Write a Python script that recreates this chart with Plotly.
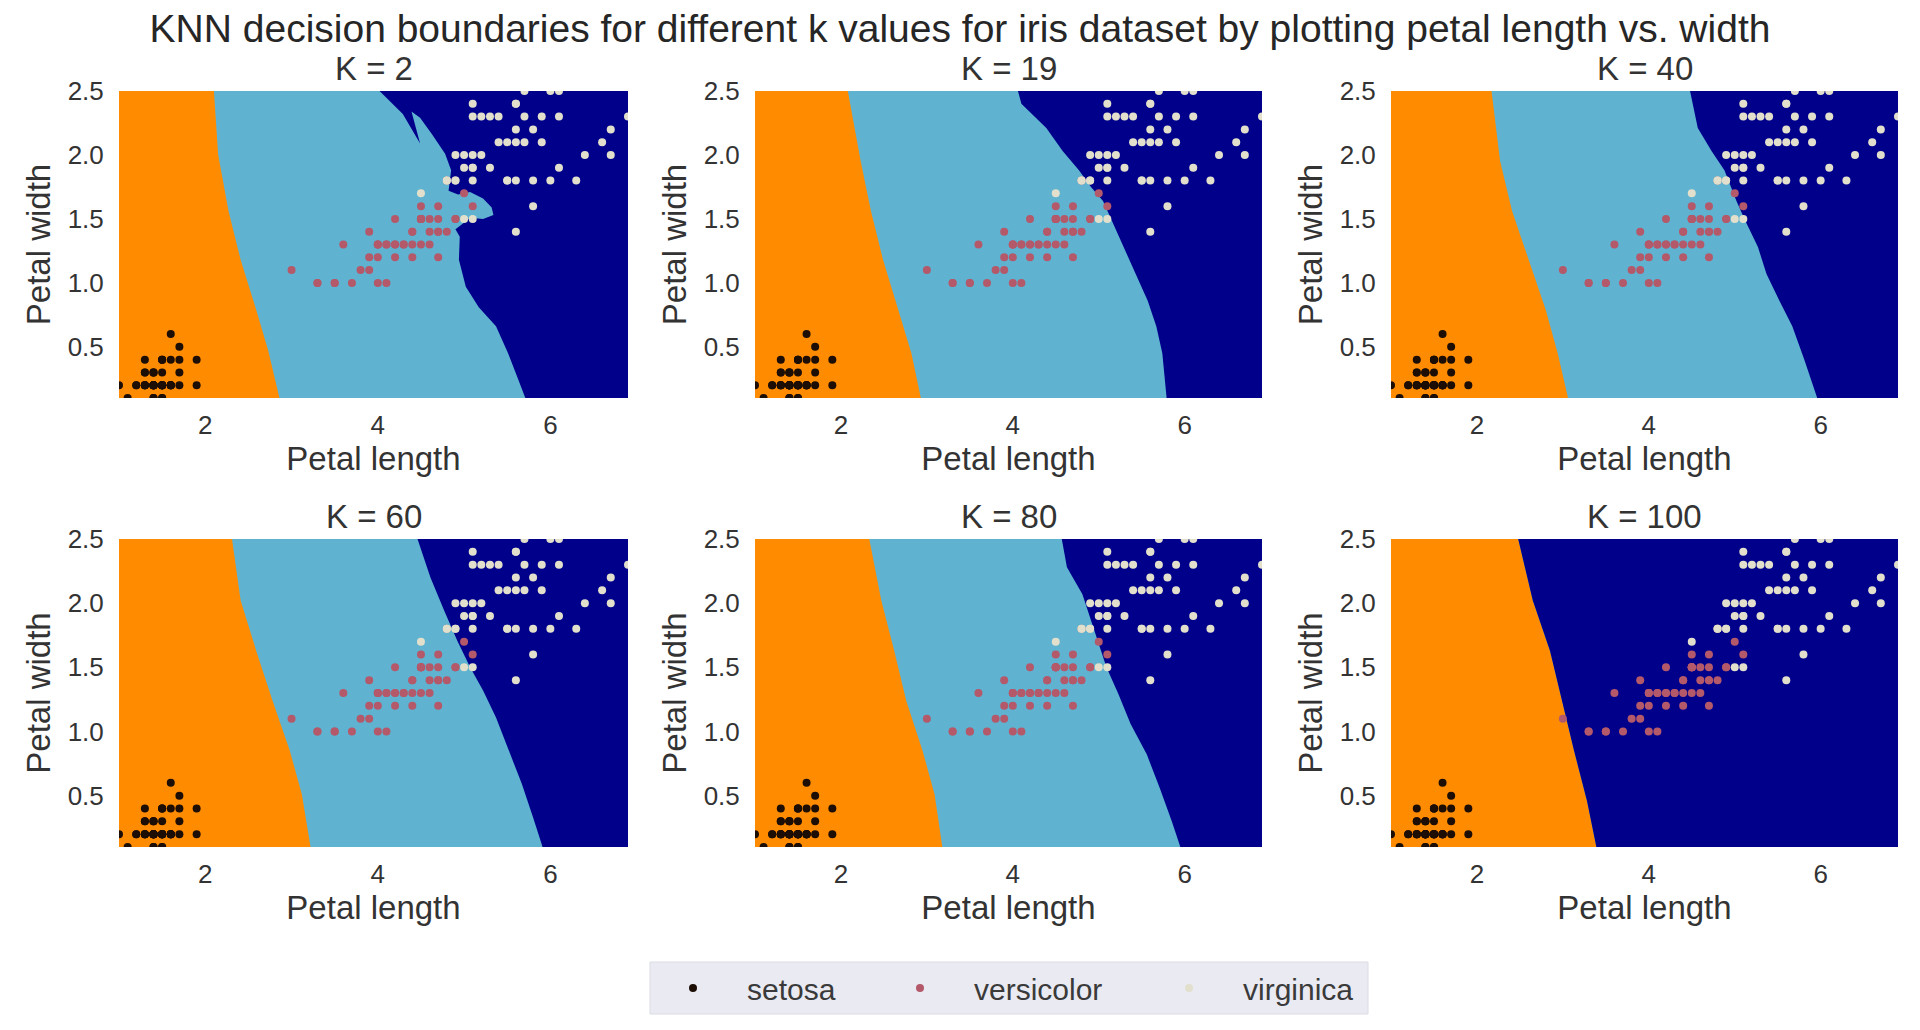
import plotly.graph_objects as go

# ---------------- data (iris: petal length / petal width) ----------------
setosa_length = [1.4, 1.4, 1.3, 1.5, 1.4, 1.7, 1.4, 1.5, 1.4, 1.5, 1.5, 1.6, 1.4, 1.1, 1.2, 1.5, 1.3, 1.4, 1.7, 1.5,
                 1.7, 1.5, 1.0, 1.7, 1.9, 1.6, 1.6, 1.5, 1.4, 1.6, 1.6, 1.5, 1.5, 1.4, 1.5, 1.2, 1.3, 1.4, 1.3, 1.5,
                 1.3, 1.3, 1.3, 1.6, 1.9, 1.4, 1.6, 1.4, 1.5, 1.4]
setosa_width = [0.2, 0.2, 0.2, 0.2, 0.2, 0.4, 0.3, 0.2, 0.2, 0.1, 0.2, 0.2, 0.1, 0.1, 0.2, 0.4, 0.4, 0.3, 0.3, 0.3,
                0.2, 0.4, 0.2, 0.5, 0.2, 0.2, 0.4, 0.2, 0.2, 0.2, 0.2, 0.4, 0.1, 0.2, 0.2, 0.2, 0.2, 0.1, 0.2, 0.2,
                0.3, 0.3, 0.2, 0.6, 0.4, 0.3, 0.2, 0.2, 0.2, 0.2]
versicolor_length = [4.7, 4.5, 4.9, 4.0, 4.6, 4.5, 4.7, 3.3, 4.6, 3.9, 3.5, 4.2, 4.0, 4.7, 3.6, 4.4, 4.5, 4.1, 4.5, 3.9,
                     4.8, 4.0, 4.9, 4.7, 4.3, 4.4, 4.8, 5.0, 4.5, 3.5, 3.8, 3.7, 3.9, 5.1, 4.5, 4.5, 4.7, 4.4, 4.1, 4.0,
                     4.4, 4.6, 4.0, 3.3, 4.2, 4.2, 4.2, 4.3, 3.0, 4.1]
versicolor_width = [1.4, 1.5, 1.5, 1.3, 1.5, 1.3, 1.6, 1.0, 1.3, 1.4, 1.0, 1.5, 1.0, 1.4, 1.3, 1.4, 1.5, 1.0, 1.5, 1.1,
                    1.8, 1.3, 1.5, 1.2, 1.3, 1.4, 1.4, 1.7, 1.5, 1.0, 1.1, 1.0, 1.2, 1.6, 1.5, 1.6, 1.5, 1.3, 1.3, 1.3,
                    1.2, 1.4, 1.2, 1.0, 1.3, 1.2, 1.3, 1.3, 1.1, 1.3]
virginica_length = [6.0, 5.1, 5.9, 5.6, 5.8, 6.6, 4.5, 6.3, 5.8, 6.1, 5.1, 5.3, 5.5, 5.0, 5.1, 5.3, 5.5, 6.7, 6.9, 5.0,
                    5.7, 4.9, 6.7, 4.9, 5.7, 6.0, 4.8, 4.9, 5.6, 5.8, 6.1, 6.4, 5.6, 5.1, 5.6, 6.1, 5.6, 5.5, 4.8, 5.4,
                    5.6, 5.1, 5.1, 5.9, 5.7, 5.2, 5.0, 5.2, 5.4, 5.1]
virginica_width = [2.5, 1.9, 2.1, 1.8, 2.2, 2.1, 1.7, 1.8, 1.8, 2.5, 2.0, 1.9, 2.1, 2.0, 2.4, 2.3, 1.8, 2.2, 2.3, 1.5,
                   2.3, 2.0, 2.0, 1.8, 2.1, 1.8, 1.8, 1.8, 2.1, 1.6, 1.9, 2.0, 2.2, 1.5, 1.4, 2.3, 2.4, 1.8, 1.8, 2.1,
                   2.4, 2.3, 1.9, 2.3, 2.5, 2.3, 1.9, 2.0, 2.3, 1.8]

species_names = ["setosa", "versicolor", "virginica"]
k_values = [2, 19, 40, 60, 80, 100]

# axis extent of the decision mesh
length_range = [1.0, 6.9]
width_range = [0.1, 2.5]

# decision boundaries (top -> bottom)
# setosa | versicolor boundary
k2_setosa_edge_x = [2.10, 2.15, 2.27, 2.41, 2.59, 2.73, 2.86]
k2_setosa_edge_y = [2.50, 2.00, 1.56, 1.18, 0.79, 0.47, 0.10]
k19_setosa_edge_x = [2.08, 2.23, 2.35, 2.49, 2.68, 2.82, 2.93]
k19_setosa_edge_y = [2.50, 1.95, 1.56, 1.18, 0.76, 0.45, 0.10]
k40_setosa_edge_x = [2.17, 2.27, 2.41, 2.60, 2.80, 2.94, 3.06]
k40_setosa_edge_y = [2.50, 1.95, 1.56, 1.18, 0.79, 0.45, 0.10]
k60_setosa_edge_x = [2.31, 2.41, 2.59, 2.78, 2.98, 3.12, 3.22]
k60_setosa_edge_y = [2.50, 2.02, 1.63, 1.24, 0.85, 0.51, 0.10]
k80_setosa_edge_x = [2.33, 2.47, 2.62, 2.76, 2.95, 3.09, 3.18]
k80_setosa_edge_y = [2.50, 2.02, 1.63, 1.24, 0.85, 0.51, 0.10]
k100_setosa_edge_x = [2.48, 2.65, 2.85, 2.99, 3.13, 3.28, 3.39]
k100_setosa_edge_y = [2.50, 2.02, 1.63, 1.24, 0.85, 0.46, 0.10]

# versicolor | virginica boundary
k2_virginica_edge_x = [4.02, 4.29, 4.49, 4.44, 4.39, 4.49, 4.63, 4.78, 4.85, 4.82, 4.93, 5.07, 5.22, 5.32, 5.34,
                       5.22, 5.07, 4.98, 4.90, 4.95, 4.94, 5.02, 5.17, 5.37, 5.51, 5.63, 5.71]
k2_virginica_edge_y = [2.50, 2.32, 2.09, 2.21, 2.34, 2.29, 2.16, 2.01, 1.88, 1.72, 1.69, 1.71, 1.66, 1.59, 1.53,
                       1.50, 1.51, 1.46, 1.42, 1.36, 1.18, 0.97, 0.81, 0.66, 0.45, 0.24, 0.10]
k19_virginica_edge_x = [4.06, 4.10, 4.39, 4.58, 4.77, 4.91, 5.05, 5.15, 5.29, 5.43, 5.57, 5.67, 5.74, 5.79]
k19_virginica_edge_y = [2.50, 2.40, 2.21, 2.03, 1.88, 1.75, 1.64, 1.49, 1.28, 1.07, 0.86, 0.66, 0.45, 0.10]
k40_virginica_edge_x = [4.48, 4.57, 4.73, 4.88, 5.02, 5.12, 5.27, 5.37, 5.52, 5.67, 5.81, 5.96]
k40_virginica_edge_y = [2.50, 2.21, 2.03, 1.88, 1.64, 1.49, 1.28, 1.07, 0.86, 0.66, 0.40, 0.10]
k60_virginica_edge_x = [4.46, 4.61, 4.77, 4.92, 5.07, 5.22, 5.37, 5.52, 5.67, 5.80, 5.91]
k60_virginica_edge_y = [2.50, 2.20, 1.94, 1.71, 1.50, 1.32, 1.11, 0.85, 0.59, 0.33, 0.10]
k80_virginica_edge_x = [4.57, 4.63, 4.81, 4.90, 5.00, 5.09, 5.23, 5.37, 5.56, 5.71, 5.85, 5.95]
k80_virginica_edge_y = [2.50, 2.28, 2.07, 1.89, 1.68, 1.50, 1.29, 1.06, 0.82, 0.56, 0.30, 0.10]
# K = 100: versicolor region vanishes, virginica starts at the setosa edge
k100_virginica_edge_x = k100_setosa_edge_x
k100_virginica_edge_y = k100_setosa_edge_y

setosa_edges = [(k2_setosa_edge_x, k2_setosa_edge_y), (k19_setosa_edge_x, k19_setosa_edge_y),
                (k40_setosa_edge_x, k40_setosa_edge_y), (k60_setosa_edge_x, k60_setosa_edge_y),
                (k80_setosa_edge_x, k80_setosa_edge_y), (k100_setosa_edge_x, k100_setosa_edge_y)]
virginica_edges = [(k2_virginica_edge_x, k2_virginica_edge_y), (k19_virginica_edge_x, k19_virginica_edge_y),
                   (k40_virginica_edge_x, k40_virginica_edge_y), (k60_virginica_edge_x, k60_virginica_edge_y),
                   (k80_virginica_edge_x, k80_virginica_edge_y), (k100_virginica_edge_x, k100_virginica_edge_y)]

# ---------------- styles / layout (page pixel positions) ----------------
FONT = "Liberation Sans, Arial, sans-serif"
TEXT = "#333333"
region_colors = ["#FF8C00", "#5FB2D0", "#00008B"]
point_colors = ["#1c0d05", "#b4596a", "#e2e0cc"]

PAGE_MARGIN = 8          # default <body> margin of the written html page
W, H = 1920 - 2 * PAGE_MARGIN, 1030 - 2 * PAGE_MARGIN


def px_x(p):
    return (p - PAGE_MARGIN) / W


def px_y(p):
    return 1 - (p - PAGE_MARGIN) / H


col_px = [(119, 628), (755, 1262), (1391, 1898)]
row_px = [(91, 398), (539, 847)]
legend_marker_px = [694, 921, 1190]
legend_box_px = (650, 962, 1368, 1014)
LEGEND_ITEMWIDTH = 98

fig = go.Figure()
layout_axes = {}
annotations = []

species_data = [(setosa_length, setosa_width), (versicolor_length, versicolor_width),
                (virginica_length, virginica_width)]
legend_ids = ["legend", "legend2", "legend3"]

for i, k in enumerate(k_values):
    r, c = divmod(i, 3)
    ax = "" if i == 0 else str(i + 1)
    xref, yref = "x" + ax, "y" + ax
    x0, x1 = length_range
    y0, y1 = width_range

    # versicolor background region
    fig.add_trace(go.Scatter(x=[x0, x1, x1, x0, x0], y=[y0, y0, y1, y1, y0], fill="toself",
                             fillcolor=region_colors[1], mode="lines", line=dict(width=0),
                             hoverinfo="skip", showlegend=False, xaxis=xref, yaxis=yref))
    # setosa region (left of edge)
    ex, ey = setosa_edges[i]
    fig.add_trace(go.Scatter(x=[x0, x0] + list(ex) + [x0], y=[y0, y1] + list(ey) + [y0],
                             fill="toself", fillcolor=region_colors[0], mode="lines", line=dict(width=0),
                             hoverinfo="skip", showlegend=False, xaxis=xref, yaxis=yref))
    # virginica region (right of edge)
    vx, vy = virginica_edges[i]
    fig.add_trace(go.Scatter(x=list(vx) + [x1, x1, vx[0]], y=list(vy) + [y0, y1, vy[0]],
                             fill="toself", fillcolor=region_colors[2], mode="lines", line=dict(width=0),
                             hoverinfo="skip", showlegend=False, xaxis=xref, yaxis=yref))
    # observations
    for s, (lx, wy) in enumerate(species_data):
        fig.add_trace(go.Scatter(x=lx, y=wy, mode="markers", name=species_names[s],
                                 marker=dict(color=point_colors[s], size=8, line=dict(width=0)),
                                 showlegend=(i == 0), legend=legend_ids[s], xaxis=xref, yaxis=yref))

    cx0, cx1 = col_px[c]
    ry0, ry1 = row_px[r]
    xdom = [px_x(cx0), px_x(cx1)]
    ydom = [px_y(ry1), px_y(ry0)]
    layout_axes["xaxis" + ax] = dict(domain=xdom, range=length_range, anchor=yref,
                                     tickvals=[2, 4, 6], showgrid=False, zeroline=False, showline=False,
                                     ticks="outside", ticklen=4, tickcolor="rgba(0,0,0,0)",
                                     tickfont=dict(size=26, color=TEXT, family=FONT),
                                     title=dict(text="Petal length", standoff=4,
                                                font=dict(size=33, color=TEXT, family=FONT)),
                                     automargin=False, fixedrange=True)
    layout_axes["yaxis" + ax] = dict(domain=ydom, range=width_range, anchor=xref,
                                     tickvals=[0.5, 1.0, 1.5, 2.0, 2.5], tickformat=".1f",
                                     showgrid=False, zeroline=False, showline=False,
                                     ticks="outside", ticklen=9, tickcolor="rgba(0,0,0,0)",
                                     tickfont=dict(size=26, color=TEXT, family=FONT),
                                     title=dict(text="Petal width", standoff=7,
                                                font=dict(size=33, color=TEXT, family=FONT)),
                                     automargin=False, fixedrange=True)
    annotations.append(dict(text=f"K = {k}", x=(xdom[0] + xdom[1]) / 2, y=ydom[1], xref="paper", yref="paper",
                            xanchor="center", yanchor="bottom", yshift=2, showarrow=False,
                            font=dict(size=33, color=TEXT, family=FONT)))

# legend: one box with three entries
bx0, by0, bx1, by1 = legend_box_px
legend_center_y = px_y((by0 + by1) / 2)
legends = {}
for s, lid in enumerate(legend_ids):
    legends[lid] = dict(orientation="h", x=px_x(legend_marker_px[s] - LEGEND_ITEMWIDTH / 2 - 6), xanchor="left",
                        y=legend_center_y, yanchor="middle", bgcolor="rgba(0,0,0,0)", borderwidth=0,
                        font=dict(size=30, color="#3a3a3a", family=FONT), itemwidth=LEGEND_ITEMWIDTH)

fig.update_layout(
    width=W, height=H,
    margin=dict(l=0, r=0, t=0, b=0),
    paper_bgcolor="white", plot_bgcolor="white",
    title=dict(text="KNN decision boundaries for different k values for iris dataset by plotting petal length vs. width",
               x=0.5, xanchor="center", y=px_y(28), yanchor="middle",
               font=dict(size=39, color="#262626", family=FONT)),
    annotations=annotations,
    shapes=[dict(type="rect", xref="paper", yref="paper", x0=px_x(bx0), x1=px_x(bx1), y0=px_y(by1), y1=px_y(by0),
                 fillcolor="#EAEAF2", line=dict(color="#DCDCE4", width=1), layer="above")],
    showlegend=True,
    **legends,
    **layout_axes,
)

fig.write_html("out.html")
